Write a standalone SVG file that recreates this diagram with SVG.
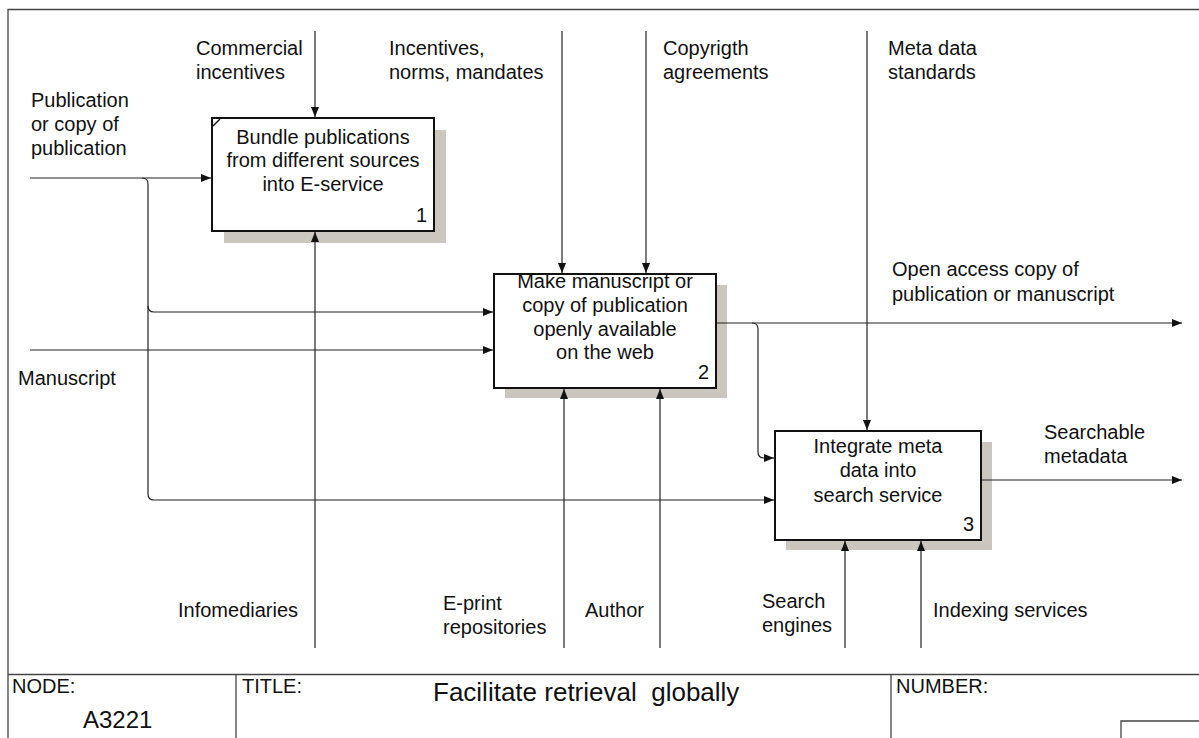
<svg xmlns="http://www.w3.org/2000/svg" width="1199" height="738" viewBox="0 0 1199 738">
<style>
text{font-family:"Liberation Sans",Arial,sans-serif;font-size:20px;fill:#111}
.c{text-anchor:middle}
.r{text-anchor:end}
.box{fill:#fff;stroke:#111;stroke-width:2}
.sh{fill:#cbc7bf}
.ln{fill:none;stroke:#222;stroke-width:1.2}
.fr{fill:none;stroke:#444;stroke-width:1.3}
.node{font-size:24px}
.title{font-size:26px}
</style>
<defs>
<marker id="ah" viewBox="0 0 10 8" refX="10" refY="4" markerWidth="10" markerHeight="8" markerUnits="userSpaceOnUse" orient="auto">
<path d="M0,0 L10,4 L0,8 Z" fill="#111"/>
</marker>
</defs>
<rect width="1199" height="738" fill="#fff"/>
<g id="frame">
<path class="fr" d="M8,738 V9.5 H1199"/>
<path class="fr" d="M8,674.5 H1199 M236,674.5 V738 M891,674.5 V738 M1121,738 V721 H1199"/>
<text x="12" y="693">NODE:</text>
<text x="83" y="728" class="node">A3221</text>
<text x="242" y="693">TITLE:</text>
<text x="433" y="701" class="title" xml:space="preserve">Facilitate retrieval  globally</text>
<text x="896" y="693">NUMBER:</text>
</g>
<g id="node1">
<rect class="sh" x="224" y="130" width="222" height="113"/>
<rect class="box" x="212" y="118" width="222" height="113"/>
<path d="M213,126 L220,119" stroke="#111" stroke-width="1.5"/>
<text class="c" x="323" y="144">Bundle publications</text>
<text class="c" x="323" y="167">from different sources</text>
<text class="c" x="323" y="191">into E-service</text>
<text class="r" x="427" y="222">1</text>
</g>
<g id="node2">
<rect class="sh" x="505" y="285" width="222" height="113"/>
<rect class="box" x="494" y="274" width="222" height="114"/>
<text class="c" x="605" y="288">Make manuscript or</text>
<text class="c" x="605" y="312">copy of publication</text>
<text class="c" x="605" y="336">openly available</text>
<text class="c" x="605" y="359">on the web</text>
<text class="r" x="709" y="379">2</text>
</g>
<g id="node3">
<rect class="sh" x="786" y="442" width="206" height="108"/>
<rect class="box" x="775" y="431" width="206" height="109"/>
<text class="c" x="878" y="453">Integrate meta</text>
<text class="c" x="878" y="477">data into</text>
<text class="c" x="878" y="502">search service</text>
<text class="r" x="974" y="531">3</text>
</g>
<g id="connectors">
<path class="ln" d="M30,178 H211" marker-end="url(#ah)"/>
<path class="ln" d="M142,178 Q148,178 148,184 V306 Q148,312 154,312 H493" marker-end="url(#ah)"/>
<path class="ln" d="M148,306 V494 Q148,500 154,500 H774" marker-end="url(#ah)"/>
<path class="ln" d="M30,350 H493" marker-end="url(#ah)"/>
<path class="ln" d="M717,323 H1182" marker-end="url(#ah)"/>
<path class="ln" d="M752,323 Q758,323 758,329 V452 Q758,458 764,458 H774" marker-end="url(#ah)"/>
<path class="ln" d="M982,480 H1182" marker-end="url(#ah)"/>
<path class="ln" d="M315,31 V117" marker-end="url(#ah)"/>
<path class="ln" d="M562,31 V273" marker-end="url(#ah)"/>
<path class="ln" d="M646,31 V273" marker-end="url(#ah)"/>
<path class="ln" d="M867,31 V430" marker-end="url(#ah)"/>
<path class="ln" d="M315,648 V232" marker-end="url(#ah)"/>
<path class="ln" d="M564,648 V389" marker-end="url(#ah)"/>
<path class="ln" d="M660,648 V389" marker-end="url(#ah)"/>
<path class="ln" d="M845,648 V541" marker-end="url(#ah)"/>
<path class="ln" d="M921,648 V541" marker-end="url(#ah)"/>
</g>
<g id="labels">
<text x="196" y="55">Commercial</text>
<text x="196" y="79">incentives</text>
<text x="389" y="55">Incentives,</text>
<text x="389" y="79">norms, mandates</text>
<text x="663" y="55">Copyrigth</text>
<text x="663" y="79">agreements</text>
<text x="888" y="55">Meta data</text>
<text x="888" y="79">standards</text>
<text x="31" y="107">Publication</text>
<text x="31" y="131">or copy of</text>
<text x="31" y="155">publication</text>
<text x="18" y="385">Manuscript</text>
<text x="892" y="276">Open access copy of</text>
<text x="892" y="301">publication or manuscript</text>
<text x="1044" y="439">Searchable</text>
<text x="1044" y="463">metadata</text>
<text x="178" y="617">Infomediaries</text>
<text x="443" y="610">E-print</text>
<text x="443" y="634">repositories</text>
<text x="585" y="617">Author</text>
<text x="762" y="608">Search</text>
<text x="762" y="632">engines</text>
<text x="933" y="617">Indexing services</text>
</g>
</svg>
